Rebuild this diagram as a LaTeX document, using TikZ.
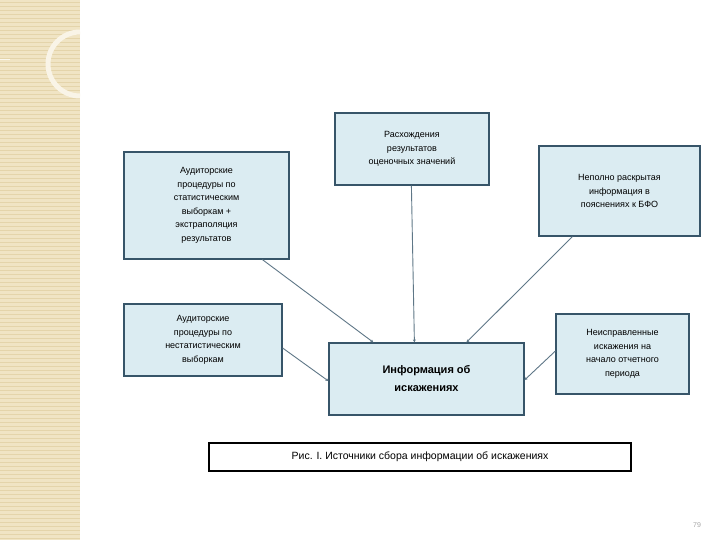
\documentclass[tikz,border=0pt]{standalone}
\usepackage{fontspec}
\setmainfont{Liberation Sans}
\usetikzlibrary{calc,arrows.meta}
\definecolor{boxfill}{RGB}{219,236,242}
\definecolor{boxline}{RGB}{55,85,105}
\definecolor{beige}{RGB}{240,228,196}
\definecolor{beigeline}{RGB}{228,212,170}
\begin{document}
\begin{tikzpicture}[x=1pt,y=-1pt,
  box/.style={draw=boxline,line width=1.2pt,fill=boxfill,align=center,inner sep=2pt,font=\fontsize{9}{13.5}\selectfont},
  conn/.style={draw=boxline!80,line width=0.9pt,-{Stealth[length=3pt,width=3pt]}}]
\useasboundingbox (0,0) rectangle (720,540);
\fill[white] (0,0) rectangle (720,540);
% left decorative strip
\fill[beige] (0,0) rectangle (80,540);
\foreach \y in {2,6,...,538} \draw[beigeline,line width=0.5pt] (0,\y) -- (80,\y);
\draw[beigeline!70!white,line width=4pt] (80,75) arc[start angle=-90,end angle=-270,radius=0] ;
\draw[white!60!beige,line width=5pt] (80,96) arc[start angle=90,end angle=270,radius=32];
\draw[white!60!beige,line width=2pt] (62,0) arc[start angle=0,end angle=-90,radius=55];
\draw[white!70!beige,line width=1pt] (0,60) -- (10,60);
% boxes
\node[box,minimum width=165pt,minimum height=107pt] (b1) at (206.5,205.5) {Аудиторские\\процедуры по\\статистическим\\выборкам +\\экстраполяция\\результатов};
\node[box,minimum width=154pt,minimum height=72pt] (b2) at (412,149) {Расхождения\\результатов\\оценочных значений};
\node[box,minimum width=161pt,minimum height=90pt] (b3) at (619.5,191) {Неполно раскрытая\\информация в\\пояснениях к БФО};
\node[box,minimum width=158pt,minimum height=72pt] (b4) at (203,340) {Аудиторские\\процедуры по\\нестатистическим\\выборкам};
\node[box,minimum width=195pt,minimum height=72pt,font=\bfseries\fontsize{11}{18}\selectfont] (c) at (426.5,379) {Информация об\\искажениях};
\node[box,minimum width=133pt,minimum height=80pt] (b6) at (622.5,354) {Неисправленные\\искажения на\\начало отчетного\\периода};
\node[draw=black,line width=1.2pt,fill=white,minimum width=422pt,minimum height=28pt,font=\fontsize{10.5}{12}\selectfont] (cap) at (420,457) {Рис. I. Источники сбора информации об искажениях};
% connectors
\draw[conn] ([xshift=139pt]b1.south west) -- ([xshift=45pt]c.north west);
\draw[conn] ([xshift=77pt]b2.south west) -- ([xshift=86pt]c.north west);
\draw[conn] ([xshift=34pt]b3.south west) -- ([xshift=138pt]c.north west);
\draw[conn] ([yshift=-8pt]b4.east) -- ([yshift=-2pt]c.west);
\draw[conn] ([yshift=3pt]b6.west) -- ([yshift=-1pt]c.east);
\node[text=gray!70,font=\fontsize{7}{8}\selectfont] (pg) at (697,525) {79};
\end{tikzpicture}
\end{document}
